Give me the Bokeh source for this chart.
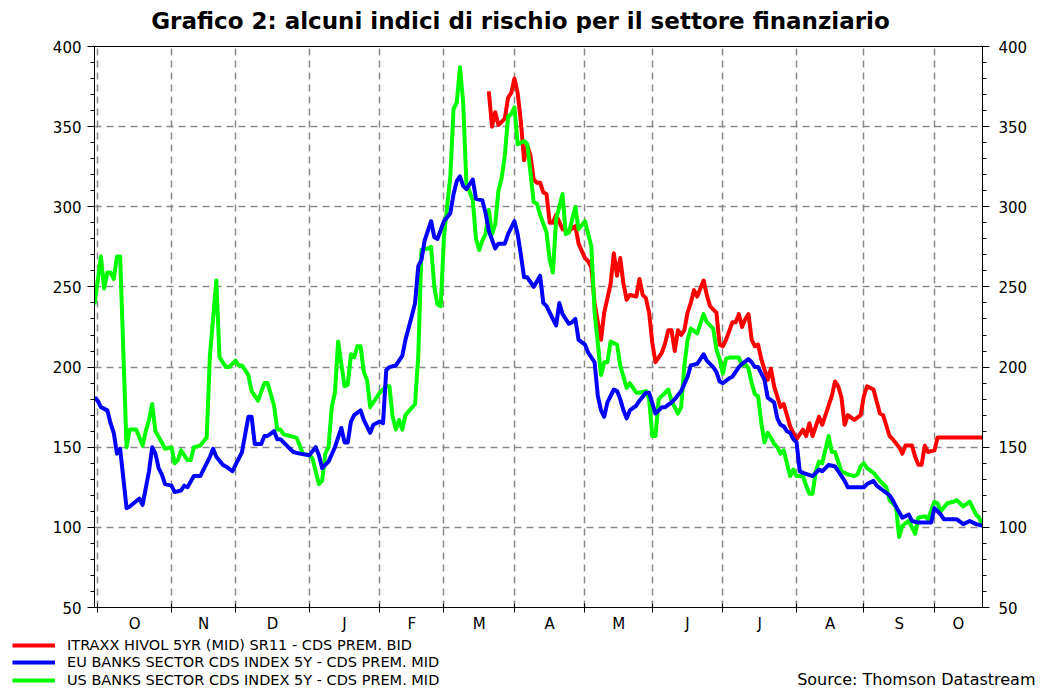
import numpy as np
from bokeh.plotting import figure
from bokeh.layouts import column
from bokeh.models import (Range1d, FixedTicker, SingleIntervalTicker, LinearAxis, Grid,
                          Label, Legend, LegendItem, ColumnDataSource)
from bokeh.embed import file_html
from bokeh.resources import INLINE

# ---------------- data ----------------
ORIGIN = "2008-10-01"          # business-day axis origin
X_BEGIN = "2008-09-30"
X_END = "2009-10-22"

month_starts = ["2008-10-01", "2008-11-01", "2008-12-01", "2009-01-01", "2009-02-01",
                "2009-03-01", "2009-04-01", "2009-05-01", "2009-06-01", "2009-07-01",
                "2009-08-01", "2009-09-01", "2009-10-01"]
month_labels = ["O", "N", "D", "J", "F", "M", "A", "M", "J", "J", "A", "S", "O"]

# ITRAXX HIVOL 5YR (MID) SR11 - CDS PREM. BID
red_dates = ["2009-03-20", "2009-03-23", "2009-03-24", "2009-03-25", "2009-03-27", "2009-03-30",
             "2009-03-31", "2009-04-01", "2009-04-02", "2009-04-03", "2009-04-06", "2009-04-07",
             "2009-04-08", "2009-04-09", "2009-04-10", "2009-04-13", "2009-04-14", "2009-04-15",
             "2009-04-16", "2009-04-17", "2009-04-20", "2009-04-22", "2009-04-24", "2009-04-28",
             "2009-04-29", "2009-05-01", "2009-05-04", "2009-05-05", "2009-05-06", "2009-05-07",
             "2009-05-08", "2009-05-11", "2009-05-13", "2009-05-14", "2009-05-15", "2009-05-18",
             "2009-05-19", "2009-05-20", "2009-05-21", "2009-05-25", "2009-05-26", "2009-05-27",
             "2009-05-28", "2009-05-29", "2009-06-01", "2009-06-02", "2009-06-04", "2009-06-05",
             "2009-06-08", "2009-06-09", "2009-06-10", "2009-06-11", "2009-06-12", "2009-06-15",
             "2009-06-16", "2009-06-17", "2009-06-18", "2009-06-19", "2009-06-23", "2009-06-24",
             "2009-06-25", "2009-06-29", "2009-06-30", "2009-07-01", "2009-07-02", "2009-07-06",
             "2009-07-07", "2009-07-08", "2009-07-09", "2009-07-10", "2009-07-13", "2009-07-14",
             "2009-07-15", "2009-07-16", "2009-07-17", "2009-07-21", "2009-07-22", "2009-07-23",
             "2009-07-27", "2009-07-28", "2009-07-30", "2009-07-31", "2009-08-03", "2009-08-05",
             "2009-08-06", "2009-08-07", "2009-08-10", "2009-08-11", "2009-08-12", "2009-08-13",
             "2009-08-17", "2009-08-18", "2009-08-19", "2009-08-20", "2009-08-21", "2009-08-24",
             "2009-08-25", "2009-08-27", "2009-08-31", "2009-09-01", "2009-09-02", "2009-09-04",
             "2009-09-08", "2009-09-09", "2009-09-11", "2009-09-14", "2009-09-16", "2009-09-17",
             "2009-09-18", "2009-09-22", "2009-09-23", "2009-09-24", "2009-09-25", "2009-09-28",
             "2009-09-29", "2009-10-01", "2009-10-02", "2009-10-22"]
red_values = [372, 350, 359, 351, 355, 368,
              371, 380, 371, 353, 329, 338,
              332, 317, 315, 315, 309, 308,
              290, 290, 295, 286, 285, 288,
              277, 268, 266, 262, 240, 228,
              217, 234, 252, 271, 257, 268,
              252, 242, 245, 244, 255, 245,
              243, 234, 215, 203, 209, 215,
              223, 223, 210, 223, 220, 223,
              234, 240, 248, 244, 254, 245,
              238, 234, 214, 213, 217, 228,
              228, 233, 225, 230, 233, 217,
              213, 214, 205, 192, 199, 188,
              175, 177, 163, 159, 155, 161,
              157, 165, 157, 163, 169, 164,
              176, 182, 191, 188, 181, 164,
              170, 167, 170, 182, 188, 186,
              171, 170, 157, 155, 150, 146,
              151, 151, 144, 139, 139, 151,
              147, 148, 156, 156]

# EU BANKS SECTOR CDS INDEX 5Y - CDS PREM. MID
blue_dates = ["2008-09-30", "2008-10-01", "2008-10-02", "2008-10-06", "2008-10-07", "2008-10-08",
              "2008-10-09", "2008-10-10", "2008-10-14", "2008-10-15", "2008-10-20", "2008-10-21",
              "2008-10-23", "2008-10-24", "2008-10-27", "2008-10-28", "2008-10-29", "2008-10-30",
              "2008-11-03", "2008-11-04", "2008-11-06", "2008-11-07", "2008-11-10", "2008-11-12",
              "2008-11-14", "2008-11-17", "2008-11-19", "2008-11-20", "2008-11-21", "2008-11-25",
              "2008-11-26", "2008-11-28", "2008-12-01", "2008-12-03", "2008-12-04", "2008-12-05",
              "2008-12-08", "2008-12-09", "2008-12-11", "2008-12-12", "2008-12-15", "2008-12-17",
              "2008-12-18", "2008-12-19", "2008-12-23", "2008-12-25", "2008-12-29", "2009-01-01",
              "2009-01-05", "2009-01-06", "2009-01-07", "2009-01-09", "2009-01-13", "2009-01-15",
              "2009-01-16", "2009-01-19", "2009-01-20", "2009-01-21", "2009-01-23", "2009-01-26",
              "2009-01-28", "2009-01-29", "2009-02-02", "2009-02-03", "2009-02-04", "2009-02-05",
              "2009-02-09", "2009-02-11", "2009-02-12", "2009-02-16", "2009-02-17", "2009-02-18",
              "2009-02-19", "2009-02-20", "2009-02-24", "2009-02-25", "2009-02-26", "2009-03-02",
              "2009-03-04", "2009-03-05", "2009-03-06", "2009-03-09", "2009-03-10", "2009-03-11",
              "2009-03-13", "2009-03-16", "2009-03-18", "2009-03-19", "2009-03-20", "2009-03-24",
              "2009-03-25", "2009-03-27", "2009-03-30", "2009-04-01", "2009-04-02", "2009-04-03",
              "2009-04-06", "2009-04-07", "2009-04-09", "2009-04-13", "2009-04-14", "2009-04-15",
              "2009-04-17", "2009-04-20", "2009-04-21", "2009-04-22", "2009-04-24", "2009-04-27",
              "2009-04-28", "2009-04-29", "2009-05-01", "2009-05-04", "2009-05-06", "2009-05-07",
              "2009-05-08", "2009-05-11", "2009-05-12", "2009-05-14", "2009-05-15", "2009-05-18",
              "2009-05-19", "2009-05-20", "2009-05-21", "2009-05-25", "2009-05-26", "2009-05-28",
              "2009-05-29", "2009-06-02", "2009-06-04", "2009-06-05", "2009-06-09", "2009-06-10",
              "2009-06-12", "2009-06-16", "2009-06-17", "2009-06-19", "2009-06-23", "2009-06-24",
              "2009-06-26", "2009-06-29", "2009-06-30", "2009-07-01", "2009-07-03", "2009-07-06",
              "2009-07-08", "2009-07-09", "2009-07-13", "2009-07-14", "2009-07-15", "2009-07-16",
              "2009-07-20", "2009-07-21", "2009-07-23", "2009-07-24", "2009-07-27", "2009-07-28",
              "2009-07-29", "2009-07-30", "2009-07-31", "2009-08-03", "2009-08-04", "2009-08-05",
              "2009-08-10", "2009-08-12", "2009-08-13", "2009-08-17", "2009-08-19", "2009-08-20",
              "2009-08-24", "2009-08-25", "2009-08-27", "2009-09-01", "2009-09-02", "2009-09-04",
              "2009-09-07", "2009-09-09", "2009-09-11", "2009-09-14", "2009-09-15", "2009-09-17",
              "2009-09-21", "2009-09-22", "2009-09-24", "2009-09-28", "2009-09-30", "2009-10-01",
              "2009-10-05", "2009-10-06", "2009-10-08", "2009-10-12", "2009-10-14", "2009-10-16",
              "2009-10-20", "2009-10-22"]
blue_values = [181, 179, 175, 173, 165, 159,
               146, 149, 112, 113, 118, 114,
               135, 150, 146, 137, 133, 127,
               126, 122, 123, 126, 125, 132,
               132, 136, 144, 149, 144, 139,
               138, 135, 139, 147, 158, 169,
               169, 152, 152, 157, 157, 160,
               155, 155, 151, 147, 146, 145,
               150, 145, 137, 141, 150, 162,
               153, 153, 166, 170, 173, 167,
               159, 164, 166, 165, 198, 200,
               201, 207, 217, 232, 240, 263,
               267, 279, 291, 281, 280, 291,
               296, 308, 316, 319, 313, 311,
               317, 305, 304, 296, 285, 274,
               277, 277, 283, 291, 283, 270,
               256, 256, 250, 257, 240, 238,
               230, 226, 240, 233, 227, 228,
               230, 217, 214, 209, 203, 182,
               173, 169, 178, 186, 185, 180,
               173, 168, 173, 176, 179, 184,
               184, 171, 175, 175, 178, 180,
               185, 194, 201, 202, 208, 204,
               200, 197, 191, 190, 193, 194,
               200, 202, 205, 203, 200, 200,
               192, 181, 178, 168, 164, 163,
               160, 159, 155, 153, 135, 134,
               132, 136, 135, 139, 138, 135,
               129, 125, 125, 125, 127, 129,
               126, 123, 120, 117, 113, 106,
               108, 104, 103, 103, 103, 112,
               108, 105, 105, 105, 102, 104,
               102, 101]

# US BANKS SECTOR CDS INDEX 5Y - CDS PREM. MID
green_dates = ["2008-09-30", "2008-10-02", "2008-10-03", "2008-10-06", "2008-10-07", "2008-10-08",
               "2008-10-09", "2008-10-10", "2008-10-14", "2008-10-15", "2008-10-17", "2008-10-21",
               "2008-10-22", "2008-10-23", "2008-10-24", "2008-10-27", "2008-10-29", "2008-10-30",
               "2008-11-03", "2008-11-04", "2008-11-05", "2008-11-06", "2008-11-10", "2008-11-11",
               "2008-11-12", "2008-11-14", "2008-11-18", "2008-11-19", "2008-11-21", "2008-11-24",
               "2008-11-26", "2008-11-27", "2008-12-01", "2008-12-02", "2008-12-03", "2008-12-05",
               "2008-12-08", "2008-12-10", "2008-12-12", "2008-12-15", "2008-12-17", "2008-12-18",
               "2008-12-19", "2008-12-22", "2008-12-24", "2008-12-26", "2008-12-30", "2009-01-01",
               "2009-01-02", "2009-01-06", "2009-01-07", "2009-01-08", "2009-01-09", "2009-01-12",
               "2009-01-13", "2009-01-14", "2009-01-16", "2009-01-19", "2009-01-20", "2009-01-21",
               "2009-01-22", "2009-01-23", "2009-01-26", "2009-01-27", "2009-01-28", "2009-02-02",
               "2009-02-04", "2009-02-05", "2009-02-06", "2009-02-09", "2009-02-10", "2009-02-11",
               "2009-02-12", "2009-02-17", "2009-02-18", "2009-02-19", "2009-02-23", "2009-02-24",
               "2009-02-25", "2009-02-26", "2009-02-27", "2009-03-02", "2009-03-03", "2009-03-04",
               "2009-03-05", "2009-03-06", "2009-03-09", "2009-03-10", "2009-03-11", "2009-03-13",
               "2009-03-16", "2009-03-17", "2009-03-18", "2009-03-19", "2009-03-20", "2009-03-23",
               "2009-03-24", "2009-03-25", "2009-03-26", "2009-03-27", "2009-03-30", "2009-03-31",
               "2009-04-01", "2009-04-02", "2009-04-06", "2009-04-07", "2009-04-09", "2009-04-10",
               "2009-04-13", "2009-04-15", "2009-04-16", "2009-04-17", "2009-04-20", "2009-04-22",
               "2009-04-23", "2009-04-24", "2009-04-28", "2009-04-29", "2009-05-01", "2009-05-05",
               "2009-05-06", "2009-05-07", "2009-05-08", "2009-05-11", "2009-05-12", "2009-05-13",
               "2009-05-15", "2009-05-18", "2009-05-20", "2009-05-21", "2009-05-25", "2009-05-26",
               "2009-05-28", "2009-05-29", "2009-06-01", "2009-06-02", "2009-06-03", "2009-06-05",
               "2009-06-08", "2009-06-09", "2009-06-11", "2009-06-12", "2009-06-15", "2009-06-16",
               "2009-06-17", "2009-06-19", "2009-06-23", "2009-06-24", "2009-06-26", "2009-06-29",
               "2009-06-30", "2009-07-01", "2009-07-02", "2009-07-03", "2009-07-08", "2009-07-09",
               "2009-07-10", "2009-07-13", "2009-07-14", "2009-07-15", "2009-07-16", "2009-07-17",
               "2009-07-20", "2009-07-21", "2009-07-22", "2009-07-23", "2009-07-24", "2009-07-27",
               "2009-07-28", "2009-07-30", "2009-07-31", "2009-08-03", "2009-08-05", "2009-08-06",
               "2009-08-07", "2009-08-10", "2009-08-11", "2009-08-12", "2009-08-13", "2009-08-17",
               "2009-08-18", "2009-08-19", "2009-08-21", "2009-08-25", "2009-08-27", "2009-08-28",
               "2009-08-31", "2009-09-01", "2009-09-02", "2009-09-04", "2009-09-08", "2009-09-10",
               "2009-09-11", "2009-09-15", "2009-09-16", "2009-09-17", "2009-09-21", "2009-09-23",
               "2009-09-24", "2009-09-28", "2009-09-29", "2009-10-01", "2009-10-02", "2009-10-05",
               "2009-10-07", "2009-10-09", "2009-10-12", "2009-10-14", "2009-10-16", "2009-10-20",
               "2009-10-21", "2009-10-22"]
green_values = [239, 269, 249, 259, 259, 255,
                269, 269, 150, 161, 161, 151,
                160, 167, 177, 160, 153, 149,
                150, 140, 142, 148, 142, 142,
                150, 151, 156, 207, 254, 206,
                200, 200, 204, 201, 201, 195,
                185, 179, 190, 190, 176, 161,
                161, 158, 157, 156, 146, 145,
                143, 127, 129, 146, 150, 175,
                184, 216, 188, 189, 208, 206,
                213, 213, 197, 192, 175, 184,
                188, 188, 169, 161, 167, 161,
                170, 177, 207, 273, 274, 275,
                250, 239, 238, 281, 300, 319,
                361, 365, 387, 365, 315, 304,
                280, 273, 279, 283, 298, 283,
                289, 310, 318, 332, 356, 358,
                362, 339, 341, 339, 303, 302,
                295, 284, 267, 259, 292, 308,
                283, 284, 300, 286, 291, 275,
                234, 215, 195, 203, 203, 216,
                214, 201, 187, 190, 184, 184,
                185, 180, 157, 157, 180, 184,
                186, 179, 171, 175, 201, 217,
                224, 221, 233, 228, 224, 211,
                205, 196, 205, 206, 206, 201,
                202, 199, 190, 183, 182, 165,
                153, 159, 156, 152, 150, 146,
                148, 132, 136, 132, 132, 126,
                121, 121, 135, 141, 140, 157,
                147, 147, 135, 133, 132, 133,
                138, 140, 137, 134, 129, 125,
                117, 113, 94, 101, 104, 96,
                106, 107, 105, 116, 115, 110,
                115, 116, 117, 113, 116, 108,
                106, 101]

series_names = ["ITRAXX HIVOL 5YR (MID) SR11 - CDS PREM. BID",
                "EU BANKS SECTOR CDS INDEX 5Y - CDS PREM. MID",
                "US BANKS SECTOR CDS INDEX 5Y - CDS PREM. MID"]
series_colors = ["#FF0000", "#0000FF", "#00FF00"]
title_text = "Grafico 2: alcuni indici di rischio per il settore finanziario"
source_text = "Source: Thomson Datastream"
y_min, y_max, y_step = 50, 400, 50


def bday(dates):
    return np.busday_count(ORIGIN, np.array(dates, dtype="datetime64[D]")).astype(float)


# ---------------- layout ----------------
W = 1040
TITLE_H = 33
MAIN_H = 602
LEG_H = 53
LINE_W = 4
ROW_PITCH = 17.6
LEG_FONT = "14.5px"

x0 = float(bday([X_BEGIN])[0])
x1 = float(bday([X_END])[0])
bounds = list(bday(month_starts))
edges = bounds + [x1]
mids = [(edges[i] + edges[i + 1]) / 2.0 for i in range(len(bounds))]


def strip(height):
    f = figure(width=W, height=height, output_backend="svg", toolbar_location=None,
               x_range=Range1d(0, 1), y_range=Range1d(0, 1),
               x_axis_type=None, y_axis_type=None,
               min_border_left=0, min_border_right=0, min_border_top=0, min_border_bottom=0,
               frame_align=False)
    f.outline_line_color = None
    return f


# ---- title strip ----
pt = strip(TITLE_H)
pt.add_layout(Label(x=W / 2, y=13, x_units="screen", y_units="screen",
                    text=title_text, text_align="center", text_baseline="middle",
                    text_font="DejaVu Sans", text_font_style="bold", text_font_size="23px",
                    text_color="black"))

# ---- main chart ----
p = figure(width=W, height=MAIN_H, output_backend="svg", toolbar_location=None,
           x_range=Range1d(x0, x1), y_range=Range1d(y_min, y_max),
           x_axis_type=None, y_axis_type=None,
           min_border_left=94, min_border_right=58,
           min_border_top=13, min_border_bottom=27, frame_align=False)
p.background_fill_color = "white"
p.border_fill_color = "white"
p.outline_line_color = "black"
p.outline_line_width = 1

TICK_FONT = "DejaVu Sans"

xaxis = LinearAxis(ticker=FixedTicker(ticks=mids, minor_ticks=bounds),
                   major_label_overrides={m: lab for m, lab in zip(mids, month_labels)},
                   major_tick_in=0, major_tick_out=0,
                   minor_tick_in=4, minor_tick_out=5,
                   minor_tick_line_color="black",
                   axis_line_color="black", axis_line_width=1,
                   major_label_standoff=2,
                   major_label_text_font=TICK_FONT,
                   major_label_text_font_size="15px",
                   major_label_text_color="black")
p.add_layout(xaxis, "below")

for side, standoff in (("left", 6), ("right", 9)):
    ax = LinearAxis(ticker=SingleIntervalTicker(interval=y_step, num_minor_ticks=5),
                    major_tick_in=0, major_tick_out=7,
                    minor_tick_in=0, minor_tick_out=4,
                    major_tick_line_color="black", minor_tick_line_color="black",
                    axis_line_color="black", axis_line_width=1,
                    major_label_standoff=standoff,
                    major_label_text_font=TICK_FONT,
                    major_label_text_font_size="15px",
                    major_label_text_color="black")
    p.add_layout(ax, side)

grid_style = dict(grid_line_color="#8a8a8a", grid_line_width=1.5, grid_line_dash="7 5")
p.add_layout(Grid(dimension=0, ticker=FixedTicker(ticks=bounds), **grid_style))
p.add_layout(Grid(dimension=1, ticker=SingleIntervalTicker(interval=y_step), **grid_style))

# drawing order as in the reference: red below, then green, blue on top
for dates, vals, col in ((red_dates, red_values, series_colors[0]),
                         (green_dates, green_values, series_colors[2]),
                         (blue_dates, blue_values, series_colors[1])):
    src = ColumnDataSource(dict(x=bday(dates), y=vals))
    p.line("x", "y", source=src, line_color=col, line_width=LINE_W, line_join="round")

# ---- legend + source strip ----
pl = strip(LEG_H)
# legend keys: styled line renderers holding no visible point; one legend per row
n_rows = len(series_names)
for i, (name, col) in enumerate(zip(series_names, series_colors)):
    key = pl.line(x=np.array([np.nan]), y=np.array([np.nan]), line_color=col, line_width=LINE_W)
    leg = Legend(items=[LegendItem(label=name, renderers=[key])],
                 location=(12, (n_rows - 1 - i) * ROW_PITCH), orientation="vertical",
                 glyph_width=43, glyph_height=14, label_height=14, label_standoff=12,
                 padding=0, spacing=0, margin=0,
                 border_line_color=None, background_fill_alpha=0,
                 label_text_font="DejaVu Sans", label_text_font_size=LEG_FONT,
                 label_text_color="black")
    pl.add_layout(leg)
pl.add_layout(Label(x=W - 5, y=9, x_units="screen", y_units="screen",
                    text=source_text, text_align="right", text_baseline="middle",
                    text_font="DejaVu Sans", text_font_size="16px", text_color="black"))

layout = column(pt, p, pl, spacing=0)
open("out.html", "w").write(file_html(layout, INLINE))
